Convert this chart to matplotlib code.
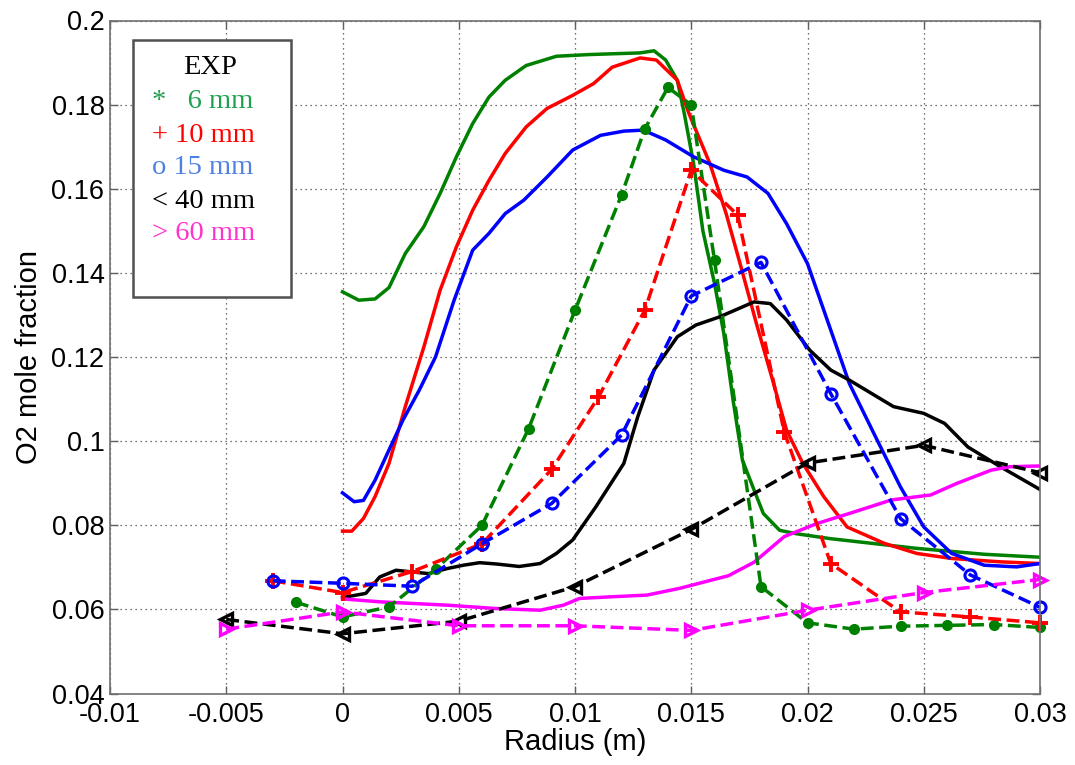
import numpy as np
import matplotlib
matplotlib.use('Agg')
import matplotlib.pyplot as plt
from matplotlib.ticker import FormatStrFormatter

plt.rcParams['font.family'] = ['Liberation Sans', 'DejaVu Sans']
plt.rcParams['axes.unicode_minus'] = False

##########################################################
# Simulation profiles (solid lines)
sim6_x = [0, 0.0007, 0.0014, 0.002, 0.0027, 0.0035, 0.0042, 0.0049, 0.0056, 0.0063,
          0.007, 0.0079, 0.0092, 0.0106, 0.0128, 0.0134, 0.0139, 0.0144, 0.0147, 0.0151,
          0.0155, 0.016, 0.0164, 0.0168, 0.0172, 0.0177, 0.0181, 0.0188, 0.0195, 0.021,
          0.0247, 0.0276, 0.03]
sim6_y = [0.1355, 0.1335, 0.1338, 0.1365, 0.1446, 0.151, 0.1589, 0.1676, 0.1755, 0.1818,
          0.1858, 0.1893, 0.1915, 0.1919, 0.1923, 0.1928, 0.1906, 0.1858, 0.1779, 0.166,
          0.150, 0.1375, 0.1256, 0.1097, 0.0955, 0.0884, 0.0828, 0.0788, 0.078, 0.0768,
          0.0745, 0.0731, 0.0724]

sim10_x = [0, 0.0004, 0.0009, 0.0014, 0.002, 0.0027, 0.0035, 0.0042, 0.0049, 0.0056,
           0.0063, 0.007, 0.0079, 0.0088, 0.0099, 0.0108, 0.0116, 0.0128, 0.0135, 0.0144,
           0.0149, 0.0158, 0.0165, 0.0171, 0.0178, 0.0185, 0.0191, 0.0198, 0.0207, 0.0217,
           0.0233, 0.0247, 0.0262, 0.0283, 0.03]
sim10_y = [0.0786, 0.0786, 0.0816, 0.0868, 0.0947, 0.1082, 0.1224, 0.1359, 0.1462, 0.1549,
           0.162, 0.1684, 0.1747, 0.1791, 0.1822, 0.185, 0.1889, 0.1911, 0.1906, 0.1858,
           0.1779, 0.166, 0.1541, 0.1422, 0.128, 0.1145, 0.1026, 0.0947, 0.0868, 0.0796,
           0.0757, 0.0733, 0.0721, 0.0713, 0.0709]

sim15_x = [0, 0.0005, 0.0009, 0.0014, 0.002, 0.0026, 0.0033, 0.004, 0.0048, 0.0056,
           0.0063, 0.007, 0.0078, 0.0088, 0.0099, 0.0111, 0.0121, 0.0128, 0.0132, 0.0139,
           0.0151, 0.0164, 0.0174, 0.0183, 0.0191, 0.02, 0.021, 0.0218, 0.023, 0.024,
           0.025, 0.0262, 0.0276, 0.029, 0.03]
sim15_y = [0.0877, 0.0856, 0.0859, 0.0907, 0.0979, 0.105, 0.1121, 0.120, 0.1335, 0.1454,
           0.1494, 0.1541, 0.1573, 0.1628, 0.1692, 0.1727, 0.1737, 0.1739, 0.1733, 0.1716,
           0.1676, 0.1644, 0.1628, 0.1589, 0.1517, 0.1422, 0.1264, 0.1137, 0.1002, 0.0891,
           0.0796, 0.0733, 0.0705, 0.0701, 0.0709]

sim40_x = [0, 0.001, 0.0016, 0.0023, 0.003, 0.0037, 0.0045, 0.0052, 0.0059, 0.0066,
           0.0076, 0.0085, 0.0092, 0.0099, 0.0109, 0.0121, 0.0127, 0.0134, 0.0144, 0.0152,
           0.0162, 0.0177, 0.0184, 0.0191, 0.0201, 0.021, 0.0218, 0.0237, 0.025, 0.0259,
           0.0269, 0.0283, 0.03]
sim40_y = [0.0628, 0.0638, 0.0677, 0.0693, 0.0689, 0.0685, 0.0697, 0.0705, 0.0711, 0.0708,
           0.0702, 0.0709, 0.0733, 0.0765, 0.0844, 0.0947, 0.1058, 0.1169, 0.1248, 0.1276,
           0.1295, 0.1331, 0.1327, 0.1288, 0.1216, 0.1169, 0.1145, 0.1082, 0.1066, 0.1042,
           0.0986, 0.0939, 0.0885]

sim60_x = [0, 0.0016, 0.0045, 0.0066, 0.0085, 0.0095, 0.0102, 0.0116, 0.0131, 0.0145,
           0.0166, 0.0177, 0.019, 0.0204, 0.0218, 0.0236, 0.0253, 0.0264, 0.0279, 0.0287,
           0.03]
sim60_y = [0.0625, 0.0618, 0.061, 0.0602, 0.0598, 0.061, 0.0626, 0.063, 0.0634, 0.065,
           0.068, 0.0712, 0.0773, 0.0804, 0.0828, 0.086, 0.0872, 0.0899, 0.0931, 0.0939,
           0.0941]

##########################################################
# Experimental points (dashed lines with markers)
exp6_x = [-0.002, 0, 0.002, 0.004, 0.006, 0.008, 0.010, 0.012, 0.013, 0.014,
          0.015, 0.016, 0.018, 0.020, 0.022, 0.024, 0.026, 0.028, 0.030]
exp6_y = [0.0617, 0.0582, 0.0606, 0.0695, 0.080, 0.1029, 0.1311, 0.1585, 0.1742, 0.1841,
          0.1799, 0.143, 0.0654, 0.0568, 0.0553, 0.056, 0.0562, 0.0564, 0.0557]

exp10_x = [-0.003, 0, 0.003, 0.006, 0.009, 0.011, 0.013, 0.015, 0.017, 0.019,
           0.021, 0.024, 0.027, 0.030]
exp10_y = [0.0668, 0.064, 0.069, 0.0756, 0.0933, 0.1104, 0.1311, 0.1644, 0.1537, 0.1022,
           0.0709, 0.0594, 0.0582, 0.0568]

exp15_x = [-0.003, 0, 0.003, 0.006, 0.009, 0.012, 0.015, 0.018, 0.021, 0.024, 0.027, 0.030]
exp15_y = [0.0668, 0.0662, 0.0655, 0.0756, 0.0852, 0.1014, 0.1345, 0.1425, 0.1113, 0.0816,
           0.0682, 0.0605]

exp40_x = [-0.005, 0, 0.005, 0.010, 0.015, 0.020, 0.025, 0.030]
exp40_y = [0.0576, 0.0542, 0.0572, 0.0654, 0.079, 0.0948, 0.099, 0.0925]

exp60_x = [-0.005, 0, 0.005, 0.010, 0.015, 0.020, 0.025, 0.030]
exp60_y = [0.0553, 0.0594, 0.0561, 0.0561, 0.055, 0.0598, 0.064, 0.0671]

x_ticks = [-0.01, -0.005, 0, 0.005, 0.01, 0.015, 0.02, 0.025, 0.03]
y_ticks = [0.04, 0.06, 0.08, 0.1, 0.12, 0.14, 0.16, 0.18, 0.2]

legend_title = 'EXP'
legend_lines = ['*   6 mm', '+ 10 mm', 'o 15 mm', '< 40 mm', '> 60 mm']
legend_colors = ['#1fa050', '#ff0000', '#4f82e0', '#000000', '#ff33cc']

green = '#008000'
magenta = '#ff00ff'
##########################################################
fig = plt.figure(figsize=(10.75, 7.65), dpi=100)
ax = fig.add_axes([110 / 1075, 1 - 693.5 / 765, 930 / 1075, 673 / 765])

lw = 2.5
ax.plot(sim6_x, sim6_y, '-', color=green, lw=lw)
ax.plot(sim10_x, sim10_y, '-', color='r', lw=lw)
ax.plot(sim15_x, sim15_y, '-', color='b', lw=lw)
ax.plot(sim40_x, sim40_y, '-', color='k', lw=lw)
ax.plot(sim60_x, sim60_y, '-', color=magenta, lw=lw)

dlw = 2.5
ax.plot(exp6_x, exp6_y, '--', color=green, lw=dlw, marker='o', ms=7, mfc=green, mec=green,
        clip_on=False)
ax.plot(exp10_x, exp10_y, '--', color='r', lw=dlw, marker='+', ms=12, mew=2.8, clip_on=False)
ax.plot(exp15_x, exp15_y, '--', color='b', lw=dlw, marker='o', ms=8, mfc='none', mew=2.2,
        clip_on=False)
ax.plot(exp40_x, exp40_y, '--', color='k', lw=dlw, marker='<', ms=8, mfc='none', mew=2.4,
        clip_on=False)
ax.plot(exp60_x, exp60_y, '--', color=magenta, lw=dlw, marker='>', ms=8, mfc='none', mew=2.4,
        clip_on=False)

ax.set_xlim(-0.01, 0.03)
ax.set_ylim(0.04, 0.2)
ax.set_xticks(x_ticks)
ax.set_yticks(y_ticks)
ax.xaxis.set_major_formatter(FormatStrFormatter('%g'))
ax.yaxis.set_major_formatter(FormatStrFormatter('%g'))
ax.tick_params(direction='in', length=6, width=1, colors='#606060', labelcolor='k',
               labelsize=19.5, top=True, right=True)
ax.tick_params(axis='x', pad=6)
ax.tick_params(axis='y', pad=4)
for s in ax.spines.values():
    s.set_color('#707070')
    s.set_linewidth(1.2)
ax.grid(True, linestyle=(0, (1, 3)), color='#444444', lw=0.9)

ax.set_xlabel('Radius (m)', fontsize=21, labelpad=0)
ax.set_ylabel('O2 mole fraction', fontsize=21, labelpad=6)

# legend box drawn by hand (text only, like the original)
def ax_frac(px, py):
    return (px - 110) / 930, (693.5 - py) / 673

bx0, by0 = ax_frac(132.5, 297)
bx1, by1 = ax_frac(291, 40)
box = plt.Rectangle((bx0, by0), bx1 - bx0, by1 - by0, transform=ax.transAxes,
                    facecolor='white', edgecolor='#505050', lw=1.8, zorder=5)
ax.add_patch(box)
tx, ty = ax_frac(210, 67)
ax.text(tx, ty, legend_title, transform=ax.transAxes, ha='center', va='center',
        family='Liberation Serif', fontsize=20.5, color='k', zorder=6)
for i, (s, c) in enumerate(zip(legend_lines, legend_colors)):
    tx, ty = ax_frac(152, 102 + 33 * i)
    ax.text(tx, ty, s, transform=ax.transAxes, ha='left', va='center',
            family='Liberation Serif', fontsize=20.5, color=c, zorder=6)

plt.savefig('out.png', dpi=100)
